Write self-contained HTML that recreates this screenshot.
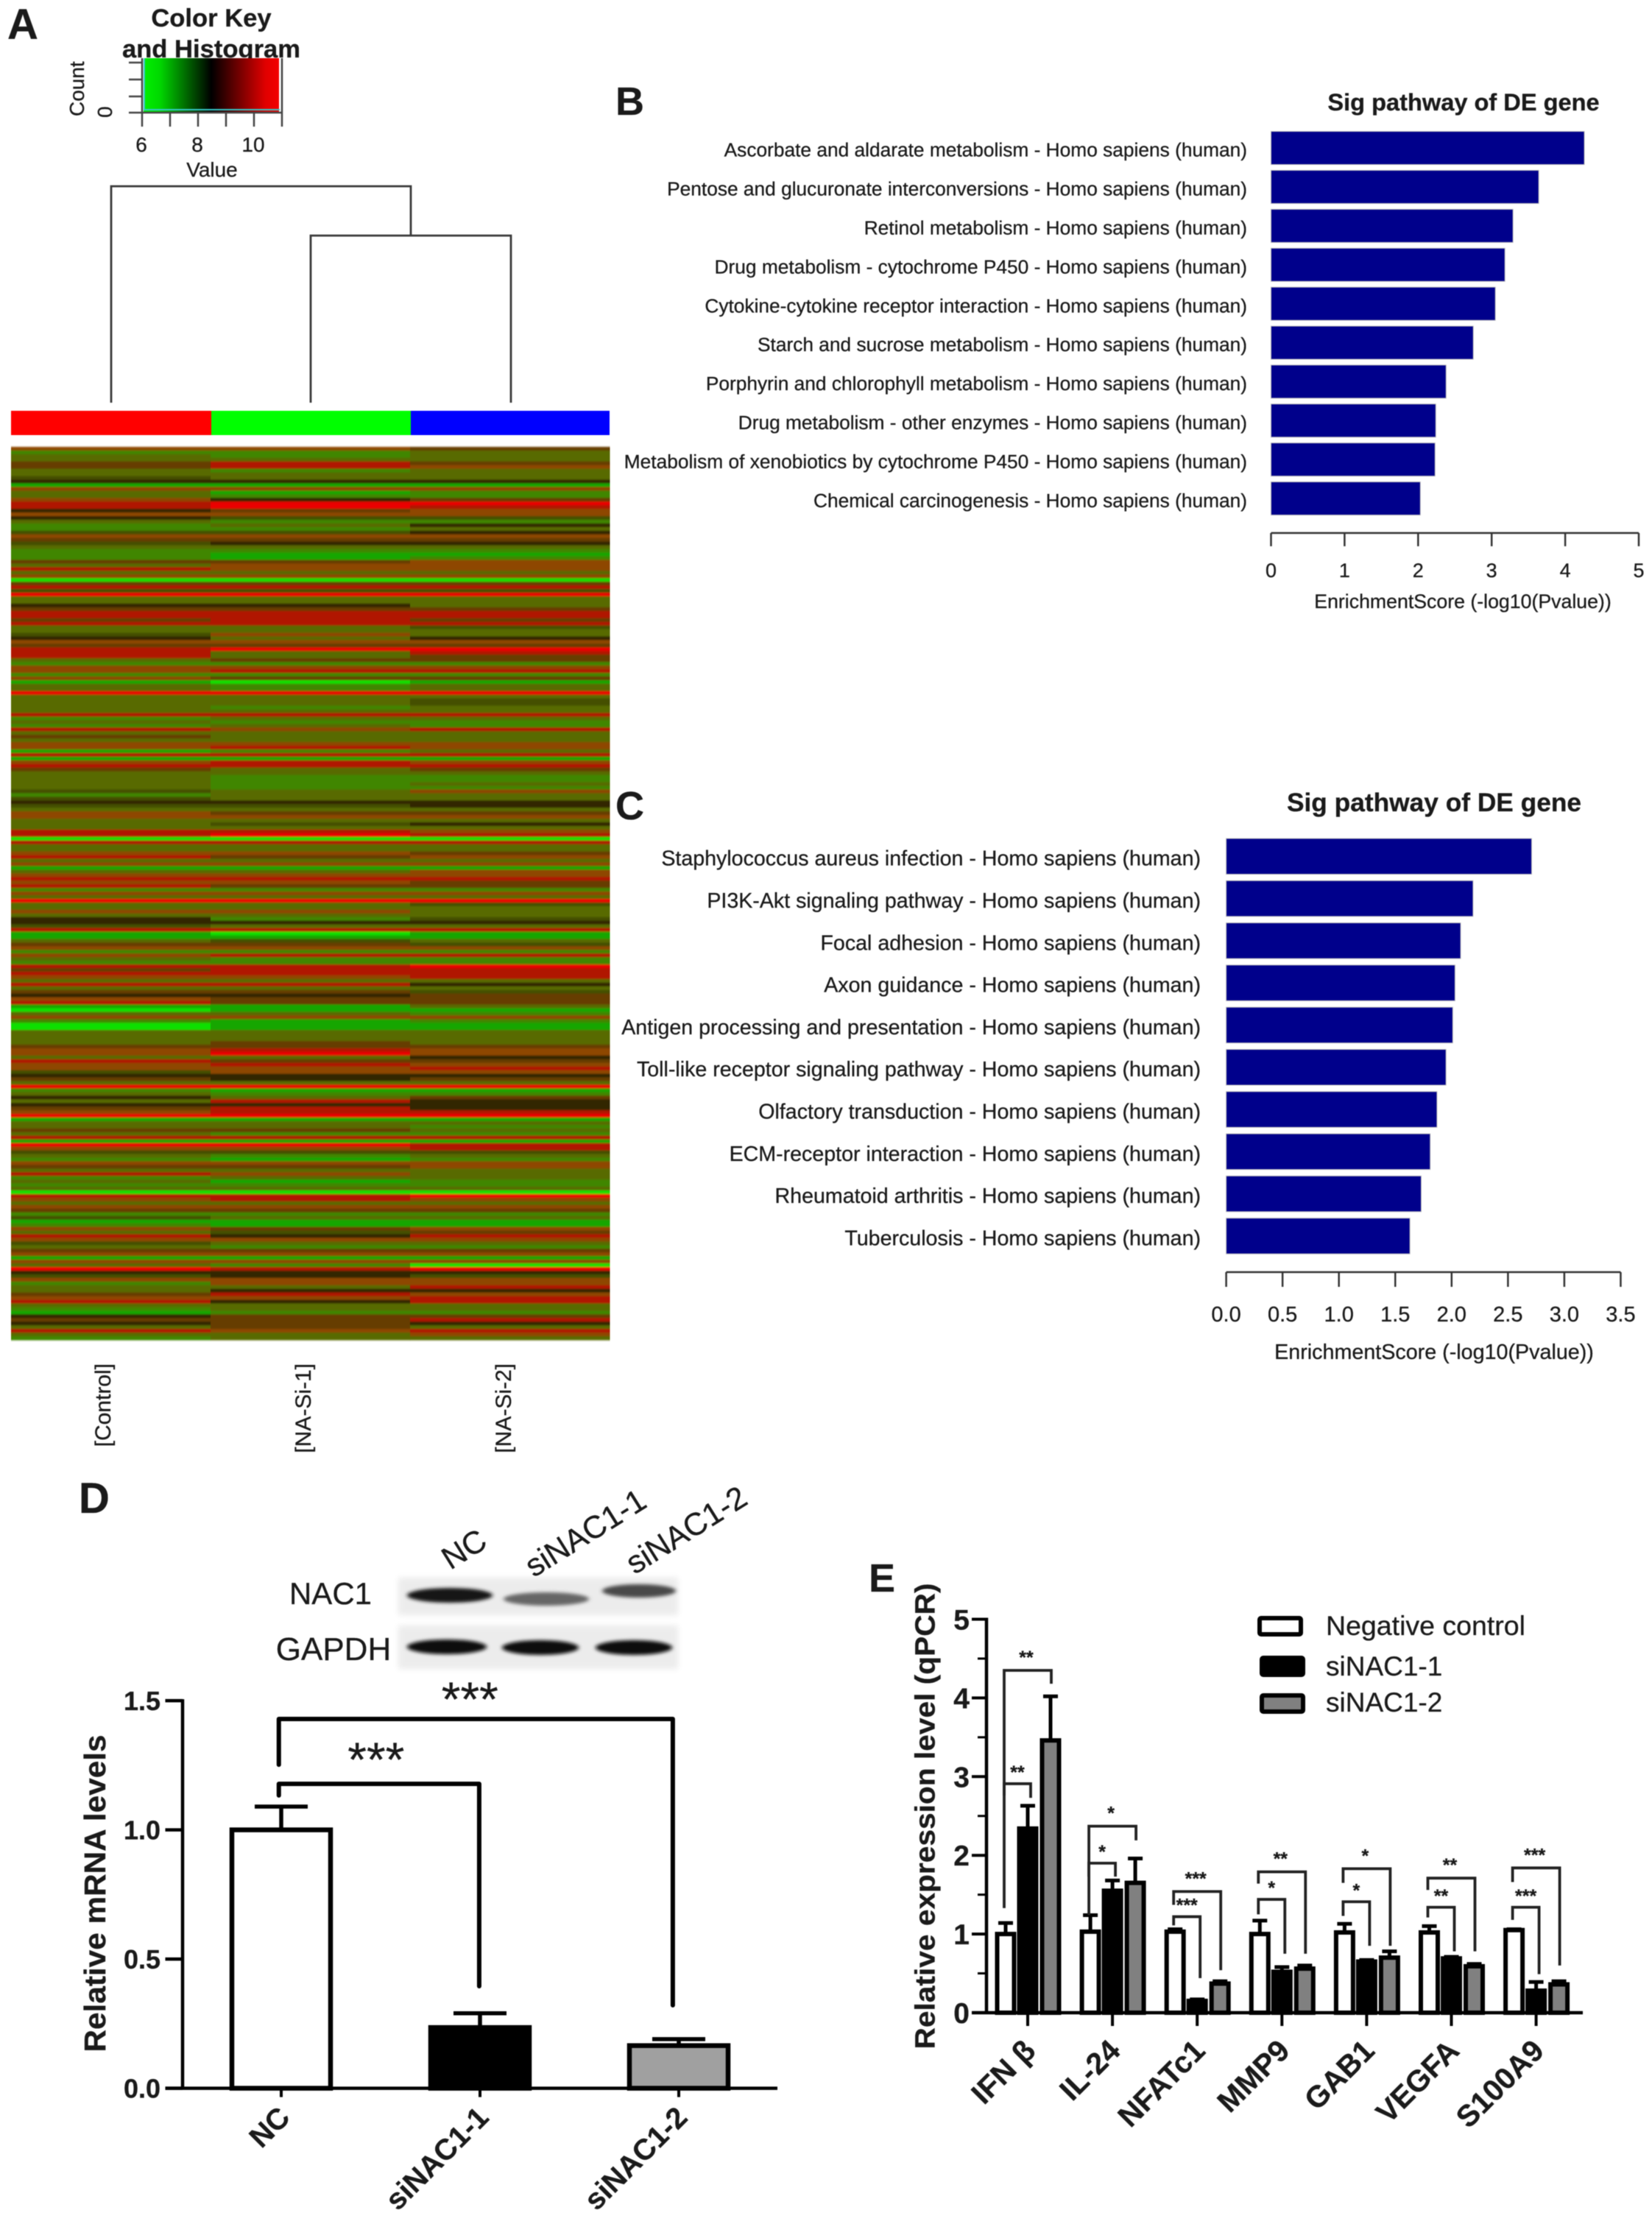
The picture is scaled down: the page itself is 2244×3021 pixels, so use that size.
<!DOCTYPE html>
<html lang="en">
<head>
<meta charset="utf-8">
<title>NAC1 knockdown figure</title>
<style>
html,body{margin:0;padding:0;background:#fff;}
svg{display:block;font-family:"Liberation Sans",Arial,sans-serif;filter:blur(0.5px);}
text{fill:#1a1a1a;stroke:#1a1a1a;stroke-width:0.3px;}
</style>
</head>
<body>
<svg id="figure" xmlns="http://www.w3.org/2000/svg" width="2244" height="3021" viewBox="0 0 2244 3021">
<defs>
<linearGradient id="keyGradient" x1="0" x2="1" y1="0" y2="0">
<stop offset="0" stop-color="#00f000"/><stop offset="0.12" stop-color="#00d800"/><stop offset="0.5" stop-color="#000"/><stop offset="0.9" stop-color="#e00000"/><stop offset="1" stop-color="#f40000"/>
</linearGradient>
<filter id="stripeBlur" x="0" y="-1%" width="100%" height="102%"><feGaussianBlur stdDeviation="0 1"/></filter>
<filter id="bandBlur" x="-20%" y="-80%" width="140%" height="260%"><feGaussianBlur stdDeviation="3 2.5"/></filter>
<filter id="boxBlur" x="-5%" y="-20%" width="110%" height="140%"><feGaussianBlur stdDeviation="4"/></filter>
</defs>
<rect width="2244" height="3021" fill="#fff"/>

<g id="panelA">
<text x="10" y="53" font-size="58" font-weight="700" fill="#000">A</text>
<text x="287" y="36" font-size="34.6" font-weight="700" text-anchor="middle">Color Key</text>
<text x="287" y="78" font-size="34.6" font-weight="700" text-anchor="middle">and Histogram</text>
<rect x="195" y="79" width="184" height="73" fill="url(#keyGradient)"/>
<path d="M196 79V149H380" fill="none" stroke="#35c8c8" stroke-width="2"/>
<path d="M175 85H193M175 108H193M175 131H193M175 153H193M193 79V172M231 153V172M269 153V172M307 153V172M345 153V172M383 79V172M193 153H383" fill="none" stroke="#444" stroke-width="2.5"/>
<text transform="translate(114 158) rotate(-90)" font-size="28" fill="#333">Count</text>
<text transform="translate(152 160) rotate(-90)" font-size="28" fill="#333">0</text>
<text x="192" y="206" font-size="28" text-anchor="middle" fill="#333">6</text>
<text x="268" y="206" font-size="28" text-anchor="middle" fill="#333">8</text>
<text x="344" y="206" font-size="28" text-anchor="middle" fill="#333">10</text>
<text x="288" y="240" font-size="28" text-anchor="middle" fill="#333">Value</text>
<path d="M151 547V253H558V320M422 547V320H694V547" fill="none" stroke="#3a3a3a" stroke-width="2.8"/>
<rect x="15" y="558" width="272" height="33" fill="#ff0000"/>
<rect x="287" y="558" width="271" height="33" fill="#00ff00"/>
<rect x="558" y="558" width="270" height="33" fill="#0000ff"/>
<g id="heatmap" filter="url(#stripeBlur)"></g>
<text transform="translate(150 1852) rotate(-90)" font-size="30" text-anchor="end" fill="#222">[Control]</text>
<text transform="translate(422 1852) rotate(-90)" font-size="30" text-anchor="end" fill="#222">[NA-Si-1]</text>
<text transform="translate(694 1852) rotate(-90)" font-size="30" text-anchor="end" fill="#222">[NA-Si-2]</text>
</g>

<g id="panelB">
<text x="836" y="156" font-size="54" font-weight="700" fill="#000">B</text>
<text x="1988" y="150" font-size="32.6" font-weight="700" text-anchor="middle">Sig pathway of DE gene</text>
<text x="1987" y="826" font-size="26.7" text-anchor="middle">EnrichmentScore (-log10(Pvalue))</text>
</g>

<g id="panelC">
<text x="836" y="1113" font-size="54" font-weight="700" fill="#000">C</text>
<text x="1948" y="1102" font-size="35.3" font-weight="700" text-anchor="middle">Sig pathway of DE gene</text>
<text x="1948" y="1846" font-size="28.7" text-anchor="middle">EnrichmentScore (-log10(Pvalue))</text>
</g>

<g id="panelD">
<text x="107" y="2055" font-size="58" font-weight="700" fill="#000">D</text>
<rect x="541" y="2143" width="380" height="51" fill="#ececec" filter="url(#boxBlur)"/>
<rect x="541" y="2208" width="380" height="59" fill="#ececec" filter="url(#boxBlur)"/>
<ellipse cx="611" cy="2167" rx="58" ry="10" fill="#151515" filter="url(#bandBlur)"/>
<ellipse cx="742" cy="2172" rx="58" ry="9" fill="#666" filter="url(#bandBlur)"/>
<ellipse cx="868" cy="2161" rx="50" ry="9" fill="#4a4a4a" filter="url(#bandBlur)"/>
<ellipse cx="607" cy="2237" rx="54" ry="10" fill="#101010" filter="url(#bandBlur)"/>
<ellipse cx="734" cy="2238" rx="52" ry="10" fill="#101010" filter="url(#bandBlur)"/>
<ellipse cx="861" cy="2238" rx="52" ry="10" fill="#101010" filter="url(#bandBlur)"/>
<text x="449" y="2179" font-size="42" text-anchor="middle">NAC1</text>
<text x="453" y="2255" font-size="44" text-anchor="middle">GAPDH</text>
<text transform="translate(632 2107) rotate(-32)" font-size="43" text-anchor="middle" dominant-baseline="middle">NC</text>
<text transform="translate(797 2085) rotate(-32)" font-size="43" text-anchor="middle" dominant-baseline="middle">siNAC1-1</text>
<text transform="translate(934 2081) rotate(-32)" font-size="43" text-anchor="middle" dominant-baseline="middle">siNAC1-2</text>
<text transform="translate(143 2572) rotate(-90)" font-size="41" font-weight="700" text-anchor="middle" textLength="431" lengthAdjust="spacingAndGlyphs">Relative mRNA levels</text>
</g>

<g id="panelE">
<text x="1180" y="2162" font-size="54" font-weight="700" fill="#000">E</text>
<text transform="translate(1269.5 2467) rotate(-90)" font-size="38" font-weight="700" text-anchor="middle" textLength="633" lengthAdjust="spacingAndGlyphs">Relative expression level (qPCR)</text>
<rect x="1711" y="2198" width="56" height="22" fill="#fff" stroke="#000" stroke-width="6" rx="2"/>
<rect x="1714" y="2252" width="56" height="23" fill="#000" stroke="#000" stroke-width="6" rx="2"/>
<rect x="1714" y="2303" width="56" height="22" fill="#808080" stroke="#000" stroke-width="6" rx="2"/>
<text x="1801" y="2221" font-size="37.5">Negative control</text>
<text x="1801" y="2276" font-size="37">siNAC1-1</text>
<text x="1801" y="2325" font-size="37">siNAC1-2</text>
</g>
</svg>

<script>
// ---------- Panel A data: heatmap rows on the key's 0-9 scale (green to black to red): [Control, NA-Si-1, NA-Si-2]
const heatRows = [
[7,7,6],[2,2,3],[3,2,3],[3,3,3],[6,8,6],[6,8,7],[3,2,3],[3,3,3],[4,3,3],[5,5,5],[1,1,1],[7,7,7],[3,1,2],[3,2,2],[7,5,6],[8,9,9],[8,9,8],[5,6,7],[7,7,7],[5,4,4],
[3,2,2],[2,3,5],[2,2,3],[4,4,5],[7,7,7],[6,6,6],[4,5,5],[3,3,3],[2,2,2],[2,1,1],[2,1,2],[6,6,7],[3,7,7],[8,7,7],[3,3,3],[7,7,7],[0,0,0],[6,6,6],[8,8,8],[4,4,4],
[9,9,9],[3,3,3],[3,3,3],[5,5,3],[6,6,6],[8,8,8],[8,8,8],[6,8,6],[8,8,8],[3,3,4],[3,3,3],[4,7,3],[5,3,5],[7,7,7],[6,6,6],[8,9,9],[8,3,8],[8,3,6],[3,6,6],[2,2,2],
[7,7,7],[7,8,8],[2,2,2],[7,6,6],[1,0,1],[3,2,3],[3,2,3],[9,9,9],[3,3,3],[3,3,4],[3,3,4],[3,2,3],[3,3,3],[8,8,8],[2,3,3],[3,2,2],[2,3,2],
[8,7,8],[3,3,3],[6,3,3],[3,3,3],[7,7,7],[7,8,7],[1,2,3],[8,8,8],[1,1,1],[7,8,7],[8,8,8],[6,3,6],[3,3,3],[3,2,2],[3,2,2],[3,2,3],[3,2,2],[4,3,7],[2,3,3],[4,3,3],
[5,5,5],[4,4,5],[3,3,3],[7,6,6],[7,7,7],[3,3,3],[3,4,5],[3,3,3],[8,8,7],[8,9,8],[0,0,0],[8,8,8],[3,3,3],[3,3,3],[7,7,6],[8,6,7],[3,3,3],[7,7,7],[1,1,1],[3,3,7],
[7,7,7],[8,8,8],[7,7,6],[8,6,6],[2,2,2],[7,7,7],[3,3,3],[9,9,9],[3,3,4],[3,3,3],[7,7,3],[3,3,3],[5,2,4],[5,5,5],[4,3,3],[8,8,8],[1,0,1],[1,1,1],[3,4,3],[6,6,4],
[7,7,7],[2,2,2],[7,8,8],[3,2,2],[2,2,2],[8,8,9],[6,8,8],[8,8,8],[7,7,8],[3,3,3],[8,8,5],[3,3,3],[6,6,4],[5,5,6],[7,6,6],[8,6,6],[1,1,3],[0,1,1],[3,3,2],[7,7,7],
[2,1,2],[0,1,1],[0,1,1],[3,3,3],
[3,3,3],[3,3,3],[3,6,3],[6,6,6],[7,8,7],[7,9,7],[3,3,5],[8,6,6],[7,8,7],[7,7,8],[4,7,7],[5,5,5],[6,5,6],[3,3,3],[9,9,9],[2,1,1],[3,2,2],[5,3,6],[3,8,5],[5,5,5],
[6,8,5],[7,8,8],[9,9,9],[1,1,1],[3,3,3],[3,3,2],[6,6,3],[3,2,2],[8,8,8],[1,1,1],[9,9,8],[7,7,8],[4,4,4],[3,2,3],[2,1,2],[7,7,7],[6,6,7],[3,3,3],[8,7,3],[2,3,3],
[3,1,2],[2,2,2],[3,3,3],[0,0,0],[8,8,9],[7,8,7],[3,3,3],[7,7,7],[6,6,6],[2,2,2],[4,3,3],[1,1,1],[2,1,1],[7,6,7],[3,4,6],[8,5,8],[7,7,7],[4,3,3],[3,2,2],[6,6,6],
[7,7,7],[1,1,1],[7,7,7],[3,2,0],[9,8,9],[5,5,5],[4,5,4],[7,7,7],[2,7,7],[3,3,8],[3,5,5],[6,8,7],[7,7,8],[8,5,8],[3,3,3],[2,3,3],[1,2,2],[5,6,6],[6,6,8],[5,6,5],
[3,6,3],[8,7,8],[3,3,7],[2,3,3]
];

// ---------- Panel B data
const pathwaysB = [
"Ascorbate and aldarate metabolism - Homo sapiens (human)",
"Pentose and glucuronate interconversions - Homo sapiens (human)",
"Retinol metabolism - Homo sapiens (human)",
"Drug metabolism - cytochrome P450 - Homo sapiens (human)",
"Cytokine-cytokine receptor interaction - Homo sapiens (human)",
"Starch and sucrose metabolism - Homo sapiens (human)",
"Porphyrin and chlorophyll metabolism - Homo sapiens (human)",
"Drug metabolism - other enzymes - Homo sapiens (human)",
"Metabolism of xenobiotics by cytochrome P450 - Homo sapiens (human)",
"Chemical carcinogenesis - Homo sapiens (human)"];
const scoresB = [4.26,3.64,3.29,3.18,3.05,2.75,2.38,2.24,2.23,2.03];
const ticksB = [0,1,2,3,4,5];
const tickLabelsB = ["0","1","2","3","4","5"];

// ---------- Panel C data
const pathwaysC = [
"Staphylococcus aureus infection - Homo sapiens (human)",
"PI3K-Akt signaling pathway - Homo sapiens (human)",
"Focal adhesion - Homo sapiens (human)",
"Axon guidance - Homo sapiens (human)",
"Antigen processing and presentation - Homo sapiens (human)",
"Toll-like receptor signaling pathway - Homo sapiens (human)",
"Olfactory transduction - Homo sapiens (human)",
"ECM-receptor interaction - Homo sapiens (human)",
"Rheumatoid arthritis - Homo sapiens (human)",
"Tuberculosis - Homo sapiens (human)"];
const scoresC = [2.71,2.19,2.08,2.03,2.01,1.95,1.87,1.81,1.73,1.63];
const ticksC = [0,0.5,1,1.5,2,2.5,3,3.5];
const tickLabelsC = ["0.0","0.5","1.0","1.5","2.0","2.5","3.0","3.5"];

// ---------- Panel D data
const categoriesD = ["NC","siNAC1-1","siNAC1-2"];
const valuesD = [1.0,0.235,0.165];
const errorsD = [0.09,0.055,0.025];
const ticksD = [0,0.5,1,1.5];
const tickLabelsD = ["0.0","0.5","1.0","1.5"];
const bracketTargetsD = [0.996,1.97];
const bracketTopsD = [1.178,1.429];
const bracketLeftEndsD = [1.133,1.252];
const bracketRightEndsD = [0.395,0.321];

// ---------- Panel E data
const genesE = ["IFN β","IL-24","NFATc1","MMP9","GAB1","VEGFA","S100A9"];
const controlE = [1.0,1.03,1.03,1.0,1.02,1.02,1.05];
const controlErrE = [0.14,0.21,0.03,0.17,0.11,0.08,0.01];
const si1E = [2.34,1.55,0.15,0.52,0.65,0.69,0.28];
const si1ErrE = [0.29,0.13,0.02,0.06,0.02,0.02,0.11];
const si2E = [3.46,1.65,0.37,0.56,0.70,0.59,0.36];
const si2ErrE = [0.56,0.31,0.03,0.04,0.08,0.03,0.04];
const ticksE = [0,1,2,3,4,5];
const minorTicksE = [0.5,1.5,2.5,3.5,4.5];
const outerStarsE = ["**","*","***","**","*","**","***"];
const innerStarsE = ["**","*","***","*","*","**","***"];
const outerTopE = [4.35,2.37,1.54,1.79,1.83,1.71,1.84];
const outerLeftEndE = [1.33,1.24,1.37,1.64,1.65,1.56,1.66];
const outerRightEndE = [4.18,2.19,0.54,0.75,0.85,0.78,0.60];
const innerTopE = [2.91,1.90,1.22,1.44,1.41,1.34,1.34];
const innerLeftEndE = [2.76,1.73,1.11,1.25,1.23,1.21,1.18];
const innerRightEndE = [2.73,1.73,0.44,0.75,0.85,0.78,0.49];

// ---------- Helpers
const NS = "http://www.w3.org/2000/svg";
function make(parent, tag, geometry, text) {
  const node = document.createElementNS(NS, tag);
  for (const key in geometry) node.setAttribute(key, geometry[key]);
  if (text !== undefined) node.textContent = text;
  parent.appendChild(node);
  return node;
}
function heatColor(v) {
  const ramp = [[16,224,0],[22,166,0],[64,134,0],[88,106,0],[68,80,0],[50,38,0],[102,60,0],[142,70,0],[176,22,0],[235,0,0]];
  const t = Math.max(0, Math.min(9, v));
  const lo = Math.floor(t), hi = Math.min(9, lo + 1), f = t - lo;
  const c = [0,1,2].map(k => Math.round(ramp[lo][k] + (ramp[hi][k] - ramp[lo][k]) * f));
  return "rgb(" + c.join(",") + ")";
}

// ---------- Panel A heatmap
(function () {
  const host = document.getElementById("heatmap");
  const left = 15, top = 607, width = 813, height = 1213;
  const colX = c => left + c * width / 3;
  const rowY = r => top + r * height / heatRows.length;
  heatRows.forEach((row, r) => {
    row.forEach((value, c) => {
      const cell = make(host, "rect", {x: colX(c), y: rowY(r), width: width / 3 + 0.5, height: height / heatRows.length + 0.6, fill: heatColor(value)});
      
      
    });
  });
})();

// ---------- Panels B and C
function drawEnrichment(hostId, labels, scores, ticks, tickLabels, o) {
  const host = document.getElementById(hostId);
  const xScale = v => o.x0 + v * o.unit;
  const yScale = i => o.y0 + i * o.step;
  scores.forEach((score, i) => {
    const bar = make(host, "rect", {x: xScale(0), y: yScale(i), width: xScale(score) - xScale(0), height: o.barH, fill: "#00008b", stroke: "#bbb", "stroke-width": 1});
    
    
    const label = make(host, "text", {x: o.labelRight, y: yScale(i) + o.barH / 2 + o.labelSize * 0.33 + 3, "font-size": o.labelSize, "text-anchor": "end"}, labels[i]);
    
    
  });
  const axis = make(host, "line", {x1: xScale(ticks[0]), x2: xScale(ticks[ticks.length - 1]), y1: o.axisY, y2: o.axisY, stroke: "#333", "stroke-width": 2.5});
  
  
  ticks.forEach((t, i) => {
    const mark = make(host, "line", {x1: xScale(t), x2: xScale(t), y1: o.axisY, y2: o.tickEnd, stroke: "#333", "stroke-width": 2.5});
    
    
    const text = make(host, "text", {x: xScale(t), y: o.tickLabelY, "font-size": o.tickSize, "text-anchor": "middle"}, tickLabels[i]);
    
    
  });
}
drawEnrichment("panelB", pathwaysB, scoresB, ticksB, tickLabelsB, {x0: 1726.5, unit: 99.9, y0: 178.5, step: 52.9, barH: 45, labelRight: 1694, labelSize: 26.3, axisY: 724, tickEnd: 742, tickLabelY: 784, tickSize: 27});
drawEnrichment("panelC", pathwaysC, scoresC, ticksC, tickLabelsC, {x0: 1665.6, unit: 153.1, y0: 1139, step: 57.3, barH: 48.5, labelRight: 1631, labelSize: 28.6, axisY: 1728, tickEnd: 1748, tickLabelY: 1795, tickSize: 29});

// ---------- Panel D
(function () {
  const host = document.getElementById("panelD");
  const yD = v => 2836.6 - v * 351;
  const xD = i => 382 + i * 270;
  const fills = ["#fff", "#000", "#a0a0a0"];
  categoriesD.forEach((name, i) => {
    const err = make(host, "path", {d: "M" + xD(i) + " " + yD(valuesD[i]) + "V" + yD(valuesD[i] + errorsD[i]) + "M" + (xD(i) - 36) + " " + yD(valuesD[i] + errorsD[i]) + "H" + (xD(i) + 36), fill: "none", stroke: "#000", "stroke-width": 5.5});
    
    
    const bar = make(host, "rect", {x: xD(i) - 67, y: yD(valuesD[i]), width: 134, height: yD(0) - yD(valuesD[i]), fill: fills[i], stroke: "#000", "stroke-width": 6.5});
    
    
    const tick = make(host, "line", {x1: xD(i), x2: xD(i), y1: yD(0), y2: yD(0) + 12, stroke: "#000", "stroke-width": 4});
    
    
    const label = make(host, "text", {transform: "translate(" + (xD(i) + 14) + " " + (yD(0) + 42) + ") rotate(-45)", "font-size": 40, "font-weight": 700, "text-anchor": "end"}, name);
    
    
  });
  const xAxis = make(host, "line", {x1: 224.5, x2: 1056, y1: yD(0), y2: yD(0), stroke: "#000", "stroke-width": 4.5});
  
  
  const yAxis = make(host, "line", {x1: 248, x2: 248, y1: yD(1.5) - 2, y2: yD(0), stroke: "#000", "stroke-width": 4.5});
  
  
  ticksD.forEach((t, i) => {
    const tick = make(host, "line", {x1: 224.5, x2: 248, y1: yD(t), y2: yD(t), stroke: "#000", "stroke-width": 4.5});
    
    
    const label = make(host, "text", {x: 218, y: yD(t) + 13, "font-size": 36, "font-weight": 700, "text-anchor": "end"}, tickLabelsD[i]);
    
    
  });
  bracketTargetsD.forEach((target, i) => {
    const left = xD(-0.012);
    const right = xD(target);
    const bracket = make(host, "path", {d: "M" + left + " " + yD(bracketLeftEndsD[i]) + "V" + yD(bracketTopsD[i]) + "H" + right + "V" + yD(bracketRightEndsD[i]), fill: "none", stroke: "#000", "stroke-width": 6, "stroke-linecap": "round", "stroke-linejoin": "round"});
    
    
    const stars = make(host, "text", {x: (left + right) / 2 + (i === 0 ? -4 : -8), y: yD(bracketTopsD[i]) + (i === 0 ? -10 : -4), "font-size": 66, "text-anchor": "middle"}, "***");
    
    
  });
})();

// ---------- Panel E
(function () {
  const host = document.getElementById("panelE");
  const yE = v => 2734 - v * 106.9;
  const xE = g => 1396 + g * 115.1;
  const series = [
    {values: controlE, errors: controlErrE, offset: -30, fill: "#fff"},
    {values: si1E, errors: si1ErrE, offset: 0, fill: "#000"},
    {values: si2E, errors: si2ErrE, offset: 31, fill: "#808080"}
  ];
  series.forEach(s => {
    genesE.forEach((gene, g) => {
      const cx = xE(g) + s.offset;
      const err = make(host, "path", {d: "M" + cx + " " + yE(s.values[g]) + "V" + yE(s.values[g] + s.errors[g]) + "M" + (cx - 10) + " " + yE(s.values[g] + s.errors[g]) + "H" + (cx + 10), fill: "none", stroke: "#000", "stroke-width": 5});
      
      
      const bar = make(host, "rect", {x: cx - 11.5, y: yE(s.values[g]), width: 23, height: yE(0) - yE(s.values[g]), fill: s.fill, stroke: "#000", "stroke-width": 6});
      
      
    });
  });
  const xAxis = make(host, "line", {x1: 1320, x2: 2150, y1: yE(0), y2: yE(0), stroke: "#000", "stroke-width": 4.5});
  
  
  const yAxis = make(host, "line", {x1: 1340, x2: 1340, y1: yE(5) - 2, y2: yE(0), stroke: "#000", "stroke-width": 4.5});
  
  
  ticksE.forEach(t => {
    const tick = make(host, "line", {x1: 1320, x2: 1340, y1: yE(t), y2: yE(t), stroke: "#000", "stroke-width": 4});
    
    
    const label = make(host, "text", {x: 1317, y: yE(t) + 14, "font-size": 39, "font-weight": 700, "text-anchor": "end"}, String(t));
    
    
  });
  minorTicksE.forEach(t => {
    const tick = make(host, "line", {x1: 1328, x2: 1340, y1: yE(t), y2: yE(t), stroke: "#000", "stroke-width": 3});
    
    
  });
  genesE.forEach((gene, g) => {
    const tick = make(host, "line", {x1: xE(g), x2: xE(g), y1: yE(0), y2: yE(0) + 18, stroke: "#000", "stroke-width": 4});
    
    
    const label = make(host, "text", {transform: "translate(" + (xE(g) + 13) + " " + (yE(0) + 54) + ") rotate(-45)", "font-size": 41, "font-weight": 700, "text-anchor": "end"}, gene);
    
    
    const outer = make(host, "path", {d: "M" + (xE(g) - 32) + " " + yE(outerLeftEndE[g]) + "V" + yE(outerTopE[g]) + "H" + (xE(g) + 32) + "V" + yE(outerRightEndE[g]), fill: "none", stroke: "#222", "stroke-width": 3.8});
    
    
    const inner = make(host, "path", {d: "M" + (xE(g) - 32) + " " + yE(innerLeftEndE[g]) + "V" + yE(innerTopE[g]) + "H" + (xE(g) + 4) + "V" + yE(innerRightEndE[g]), fill: "none", stroke: "#222", "stroke-width": 3.8});
    
    
    const outerStar = make(host, "text", {x: xE(g) - 2, y: yE(outerTopE[g] + 0.22) + 14.5, "font-size": 25, "font-weight": 700, "text-anchor": "middle"}, outerStarsE[g]);
    
    
    const innerStar = make(host, "text", {x: xE(g) - 14, y: yE(innerTopE[g] + 0.2) + 14.5, "font-size": 25, "font-weight": 700, "text-anchor": "middle"}, innerStarsE[g]);
    
    
  });
})();
</script>
</body>
</html>
